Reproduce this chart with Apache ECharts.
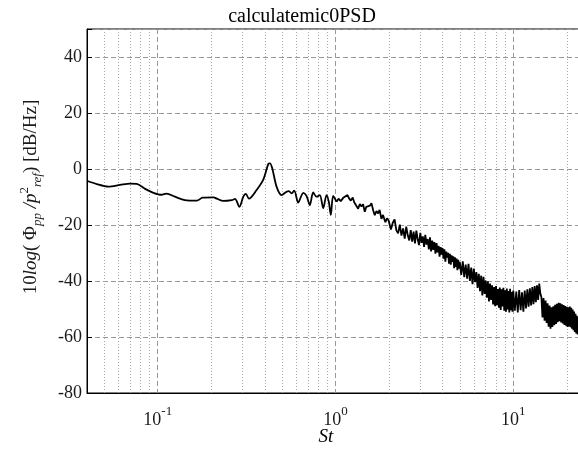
<!DOCTYPE html>
<html>
<head>
<meta charset="utf-8">
<script src="https://cdn.jsdelivr.net/npm/echarts@6/dist/echarts.min.js"></script>
<style>html,body{margin:0;padding:0;background:#fff}#c{width:578px;height:456px}</style>
</head>
<body>
<div id="c"></div>
<script>
const chartTitle = 'calculatemic0PSD';
const xName = 'St';
// low-frequency part (St, dB)
const stLow = [0.040,0.0454,0.0528,0.0614,0.0699,0.0762,0.0849,0.0946,0.105,0.112,0.125,0.142,0.166,0.179,0.206,0.215,0.234,0.261,0.272,0.288,0.303,0.313,0.326,0.360,0.393,0.419,0.428,0.441,0.466,0.497,0.531,0.547,0.566,0.586,0.617,0.659,0.687,0.717,0.749,0.782,0.816,0.853,0.890,0.917,0.941,0.970,1.013];
const dbLow = [-4.2,-5.4,-6.3,-5.7,-5.2,-5.3,-7.1,-8.5,-9.2,-8.8,-9.9,-11.1,-11.3,-10.2,-10.1,-10.6,-11.4,-11.1,-10.7,-13.5,-9.9,-8.9,-10.6,-7.5,-3.7,1.8,2.0,0.2,-6.3,-9.3,-8.1,-7.9,-8.7,-7.7,-12.0,-8.5,-9.6,-12.9,-8.4,-9.9,-9.3,-14.0,-9.3,-11.7,-16.4,-9.6,-11.7];
// 1 < St < 2
const stMid = [1.04,1.07,1.105,1.13,1.168,1.19,1.219,1.25,1.274,1.30,1.341,1.37,1.40,1.43,1.461,1.49,1.526,1.56,1.593,1.63,1.663,1.70,1.737,1.77,1.813,1.85,1.908,1.95,1.99];
const dbMid = [-10.6,-11.5,-10.3,-11.0,-9.3,-10.4,-11.3,-10.2,-11.9,-12.6,-14.2,-12.5,-13.4,-12.6,-15.3,-13.5,-14.2,-13.1,-12.2,-14.8,-16.5,-15.0,-15.9,-14.6,-17.8,-16.4,-19.0,-17.6,-18.4];
// 2 <= St <= 5
const stHigh1 = [2.00,2.05,2.10,2.15,2.20,2.25,2.30,2.35,2.40,2.45,2.50,2.55,2.60,2.65,2.70,2.75,2.80,2.85,2.90,2.95,3.00,3.05,3.10,3.15,3.20,3.25,3.30,3.35,3.40,3.45,3.50,3.55,3.60,3.65,3.70,3.75,3.80,3.85,3.90,3.95,4.00,4.05,4.10,4.15,4.20,4.25,4.30,4.35,4.40,4.45,4.50,4.55,4.60,4.65,4.70,4.75,4.80,4.85,4.90,4.95,5.00];
const dbHigh1 = [-17.8,-21.6,-19.2,-18.0,-21.9,-23.0,-19.9,-23.8,-21.2,-24.9,-20.6,-23.7,-25.5,-21.8,-25.9,-22.4,-26.6,-22.0,-25.1,-27.2,-22.8,-26.4,-24.1,-27.8,-23.5,-27.0,-25.0,-28.7,-24.4,-29.4,-25.6,-28.9,-26.1,-30.2,-26.5,-29.8,-27.4,-31.3,-27.9,-30.6,-28.2,-32.0,-28.7,-33.1,-29.5,-31.6,-29.9,-33.8,-30.3,-34.2,-30.8,-33.2,-31.2,-35.4,-31.5,-35.0,-32.0,-36.1,-32.4,-35.6,-33.2];
// 5 < St <= 10
const stHigh2 = [5.1,5.2,5.3,5.4,5.5,5.6,5.7,5.8,5.9,6.0,6.1,6.2,6.3,6.4,6.5,6.6,6.7,6.8,6.9,7.0,7.1,7.2,7.3,7.4,7.5,7.6,7.7,7.8,7.9,8.0,8.1,8.2,8.3,8.4,8.5,8.6,8.7,8.8,8.9,9.0,9.1,9.2,9.3,9.4,9.5,9.6,9.7,9.8,9.9,10.0];
const dbHigh2 = [-37.8,-33.0,-38.6,-34.1,-39.2,-33.9,-40.0,-35.2,-41.1,-35.6,-40.4,-36.8,-42.5,-37.4,-43.6,-38.1,-45.2,-38.5,-44.6,-39.8,-46.0,-40.1,-47.3,-40.9,-46.8,-41.5,-48.4,-42.2,-49.0,-41.8,-48.6,-42.9,-49.5,-42.3,-50.3,-43.0,-49.1,-42.4,-50.6,-43.3,-51.0,-42.7,-50.2,-43.6,-51.2,-42.8,-50.4,-43.9,-51.0,-43.4];
// 10 < St <= 24
const stHigh3 = [10.2,10.4,10.6,10.8,11.0,11.2,11.4,11.6,11.8,12.0,12.2,12.4,12.6,12.8,13.0,13.2,13.4,13.6,13.8,14.0,14.2,14.4,14.6,14.8,15.0,15.2,15.4,15.6,15.8,16.0,16.2,16.4,16.6,16.8,17.0,17.2,17.4,17.6,17.8,18.0,18.2,18.4,18.6,18.8,19.0,19.2,19.4,19.6,19.8,20.0,20.2,20.4,20.6,20.8,21.0,21.2,21.4,21.6,21.8,22.0,22.2,22.4,22.6,22.8,23.0,23.2,23.4,23.6,23.8,24.0];
const dbHigh3 = [-50.6,-43.8,-51.2,-43.2,-50.4,-44.0,-51.0,-43.4,-49.8,-43.0,-49.2,-42.6,-48.7,-42.2,-48.3,-41.8,-47.6,-41.5,-46.8,-40.9,-44.5,-45.8,-53.0,-46.1,-54.2,-47.0,-55.0,-48.0,-56.3,-48.8,-57.0,-49.4,-56.4,-49.0,-55.8,-48.5,-55.3,-48.1,-54.7,-47.8,-54.4,-48.0,-54.8,-48.3,-55.2,-48.6,-55.7,-48.9,-56.0,-49.2,-56.4,-49.4,-56.2,-49.1,-56.5,-49.6,-57.0,-50.2,-57.6,-50.9,-58.2,-51.7,-58.7,-52.4,-59.1,-53.0,-59.3,-53.5,-58.9,-54.0];
// axes
const xMin = 0.04, xMax = 25;
const yMin = -80, yMax = 50, yStep = 20;
const xMinorTicks = [0.05,0.06,0.07,0.08,0.09,0.2,0.3,0.4,0.5,0.6,0.7,0.8,0.9,2,3,4,5,6,7,8,9,20];

const zip = (a, b) => a.map((v, i) => [v, b[i]]);
const lowData = zip(stLow, dbLow);
const highData = [lowData[lowData.length - 1]]
  .concat(zip(stMid, dbMid), zip(stHigh1, dbHigh1), zip(stHigh2, dbHigh2), zip(stHigh3, dbHigh3));

const FONT = 'Liberation Serif';
const chart = echarts.init(document.getElementById('c'), null, {renderer: 'canvas'});
chart.setOption({
  animation: false,
  backgroundColor: '#fff',
  grid: {left: 87, top: 29, width: 497, height: 364, outerBoundsMode: 'none', containLabel: false,
    show: true, borderColor: '#000', borderWidth: 1, backgroundColor: 'transparent'},
  xAxis: {
    type: 'log', logBase: 10, min: xMin, max: xMax,
    axisLine: {show: true, onZero: false, lineStyle: {color: '#000', width: 1}},
    axisTick: {show: false},
    splitLine: {show: true, lineStyle: {color: '#9a9a9a', type: [5, 3], width: 1}},
    axisLabel: {
      margin: 12, color: '#1a1a1a', fontFamily: FONT,
      formatter: function (v) {
        const l = Math.log10(v), e = Math.round(l);
        if (Math.abs(l - e) > 1e-6) return '';
        return '{b|10}{s|' + e + '}';
      },
      rich: {
        b: {fontFamily: FONT, fontSize: 18, color: '#1a1a1a', lineHeight: 24, verticalAlign: 'bottom'},
        s: {fontFamily: FONT, fontSize: 13, color: '#1a1a1a', lineHeight: 14, verticalAlign: 'top'}
      }
    }
  },
  yAxis: {
    type: 'value', min: yMin, max: yMax, interval: yStep,
    axisLine: {show: true, onZero: false, lineStyle: {color: '#000', width: 1}},
    axisTick: {show: true, inside: true, length: 5, lineStyle: {color: '#000'}},
    splitLine: {show: true, lineStyle: {color: '#9a9a9a', type: [5, 3], width: 1}},
    axisLabel: {
      margin: 5, fontFamily: FONT, fontSize: 18, color: '#1a1a1a',
      formatter: function (v) { return (v - yMin) % yStep === 0 && v < yMax ? String(v) : ''; }
    }
  },
  series: [
    {
      type: 'line', data: [], z: 1, silent: true,
      markLine: {
        silent: true, symbol: 'none', animation: false,
        label: {show: false},
        lineStyle: {color: '#a8a8a8', type: [1, 2], width: 1},
        data: xMinorTicks.map(v => ({xAxis: v}))
      }
    },
    {
      type: 'line', data: lowData, z: 5, smooth: 0.3, symbol: 'none',
      lineStyle: {color: '#000', width: 1.8}
    },
    {
      type: 'line', data: highData, z: 5, smooth: false, symbol: 'none',
      lineStyle: {color: '#000', width: 1.8}
    }
  ],
  graphic: [
    {type: 'text', x: 302, y: 17, style: {text: chartTitle, font: '20px "Liberation Serif"', fill: '#000', align: 'center', verticalAlign: 'middle'}},
    {type: 'text', x: 326, y: 437, style: {text: xName, font: 'italic 19px "Liberation Serif"', fill: '#000', align: 'center', verticalAlign: 'middle'}},
    {type: 'text', x: 31, y: 197, rotation: Math.PI / 2,
      style: {
        text: '{n|10}{i|log}{n|( Φ}{sub|pp}{i| /p}{sup|2}{sub|ref}{n|) [dB/Hz]}',
        align: 'center', verticalAlign: 'middle',
        rich: {
          n: {fontFamily: FONT, fontSize: 19, lineHeight: 26, verticalAlign: 'middle', fill: '#1a1a1a'},
          i: {fontFamily: FONT, fontStyle: 'italic', fontSize: 19, lineHeight: 26, verticalAlign: 'middle', fill: '#1a1a1a'},
          sub: {fontFamily: FONT, fontStyle: 'italic', fontSize: 13, lineHeight: 14, verticalAlign: 'bottom', fill: '#1a1a1a'},
          sup: {fontFamily: FONT, fontSize: 13, lineHeight: 14, verticalAlign: 'top', fill: '#1a1a1a'}
        }
      }
    }
  ]
});
</script>
</body>
</html>
